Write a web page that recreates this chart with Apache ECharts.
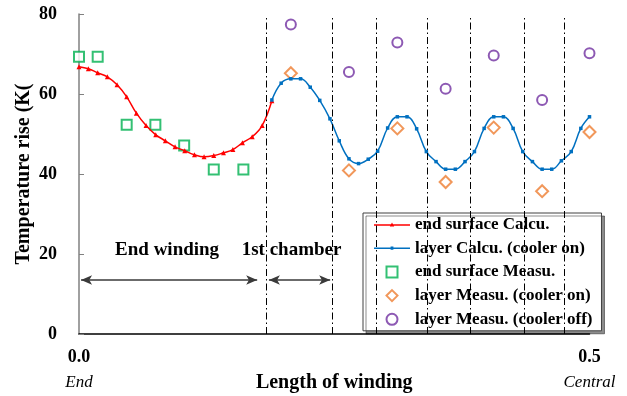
<!doctype html>
<html>
<head>
  <meta charset="utf-8">
  <title>Temperature rise along winding</title>
  <script src="https://cdn.jsdelivr.net/npm/echarts@6/dist/echarts.min.js"></script>
  <style>
    html, body { margin: 0; padding: 0; background: #fff; }
    #chart { width: 627px; height: 396px; }
  </style>
</head>
<body>
  <div id="chart"></div>
  <script>
    // 端面计算值
    var endCalcX = [0, 0.0092, 0.0183, 0.0278, 0.0373, 0.0467, 0.0562, 0.0657, 0.0752, 0.0846, 0.0941,
      0.1036, 0.1131, 0.1225, 0.1320, 0.1415, 0.1507, 0.1601, 0.1696, 0.1794, 0.1889];
    var endCalcY = [66.8, 66.3, 65.3, 64.3, 62.3, 59.3, 55.2, 52.1, 49.8, 48.3, 46.8,
      45.8, 44.8, 44.3, 44.6, 45.3, 46.1, 47.8, 49.3, 52.1, 58.3];

    // 线圈层计算值 (冷却器开)
    var layerCalcX = [0.1889, 0.198, 0.2075, 0.217, 0.2265, 0.2358, 0.2458, 0.2549, 0.2644, 0.2738,
      0.2833, 0.2925, 0.3023, 0.3118, 0.3213, 0.3307, 0.3402, 0.3497, 0.3591, 0.3686, 0.3781,
      0.3873, 0.3968, 0.4062, 0.4157, 0.4252, 0.4346, 0.4441, 0.4536, 0.4630, 0.4725, 0.4821,
      0.4915, 0.5];
    var layerCalcY = [58.5, 62.7, 63.8, 63.8, 61.7, 58.4, 53.8, 48.3, 43.8, 42.6,
      43.7, 45.7, 51.5, 54.3, 54.3, 51.3, 45.6, 43.1, 41.2, 41.2, 43.1,
      45.6, 51.4, 54.3, 54.3, 51.4, 45.6, 43.1, 41.2, 41.2, 43.3, 45.6,
      51.4, 54.3];

    // 测量值
    var endMeasX = [0, 0.0183, 0.0467, 0.0748, 0.103, 0.132, 0.161];
    var endMeasY = [69.3, 69.3, 52.3, 52.3, 47.1, 41.1, 41.1];
    var layerMeasX = [0.2075, 0.2644, 0.3118, 0.3591, 0.4062, 0.4536, 0.5];
    var layerOnY = [65.2, 40.9, 51.4, 38.0, 51.6, 35.7, 50.5];
    var layerOffY = [77.4, 65.5, 72.9, 61.3, 69.6, 58.5, 70.2];

    // 分隔线位置
    var dividerX = [0.183, 0.2483, 0.2909, 0.3415, 0.3836, 0.436, 0.4755];
    // 区段标注
    var spanNames = ['End winding', '1st chamber'];
    var spanFrom = [0.002, 0.186];
    var spanTo = [0.1745, 0.246];
    var spanShift = [-2, -8];   // 文字相对箭头中点的偏移
    var spanY = 13.5;

    var xTicks = { 0: 'End', 0.5: 'Central' };

    function pairs(xs, ys) {
      var out = [];
      for (var i = 0; i < xs.length; i++) out.push([xs[i], ys[i]]);
      return out;
    }

    var font = '"Liberation Serif", "DejaVu Serif", serif';

    // 图例图标
    var squarePath = 'path://M0,0H10V10H0Z';
    var diamondPath = 'path://M5,0L10,5L5,10L0,5Z';
    var redLineIcon = 'path://M0,4.3H36V5.7H0Z M18,2.6L20.2,6.4H15.8Z';
    var blueLineIcon = 'path://M0,4.3H36V5.7H0Z M16.6,3.4H19.4V6.6H16.6Z';

    var dividerLines = dividerX.map(function (x) {
      return [{ coord: [x, 0] }, { coord: [x, 79] }];
    });
    var spanLines = spanNames.map(function (n, i) {
      return [
        { coord: [spanFrom[i], spanY], name: n, label: { offset: [spanShift[i], 0] } },
        { coord: [spanTo[i], spanY] }
      ];
    });

    var myChart = echarts.init(document.getElementById('chart'));
    var option = {
      animation: false,
      textStyle: { fontFamily: font },
      grid: { left: 79, right: 37.5, top: 14, bottom: 62, containLabel: false, outerBoundsMode: 'none' },
      xAxis: {
        type: 'value', min: 0, max: 0.5, interval: 0.5,
        name: 'Length of winding', nameLocation: 'middle', nameGap: 39,
        nameMoveOverlap: false,
        nameTextStyle: { fontFamily: font, fontSize: 20, fontWeight: 'bold', color: '#000' },
        axisLine: { lineStyle: { color: '#000', width: 1.5 } },
        axisTick: { show: false },
        splitLine: { show: false },
        axisLabel: {
          margin: 11,
          formatter: function (v) { return '{a|' + v.toFixed(1) + '}\n{b|' + xTicks[v] + '}'; },
          rich: {
            a: { fontFamily: font, fontSize: 18, fontWeight: 'bold', color: '#000', lineHeight: 25 },
            b: { fontFamily: font, fontSize: 17, fontStyle: 'italic', color: '#000', lineHeight: 25 }
          }
        }
      },
      yAxis: {
        type: 'value', min: 0, max: 80, interval: 20,
        name: 'Temperature rise (K(', nameLocation: 'middle', nameGap: 45,
        nameMoveOverlap: false,
        nameTextStyle: { fontFamily: font, fontSize: 20, fontWeight: 'bold', color: '#000' },
        axisLine: { show: true, lineStyle: { color: '#808080', width: 1.5 } },
        axisTick: { show: true, inside: true, length: 5, lineStyle: { color: '#808080' } },
        splitLine: { show: false },
        axisLabel: { margin: 22, fontFamily: font, fontSize: 18, fontWeight: 'bold', color: '#000' }
      },
      legend: {
        orient: 'vertical', left: 363, top: 213,
        padding: [3, 9, 3, 11], itemGap: 6.7, itemWidth: 36, itemHeight: 11,
        symbolKeepAspect: true,
        backgroundColor: '#fff', borderColor: '#404040', borderWidth: 1,
        shadowColor: 'rgba(0,0,0,0.45)', shadowOffsetX: 3, shadowOffsetY: 3, shadowBlur: 0,
        textStyle: { fontFamily: font, fontSize: 17, fontWeight: 'bold', color: '#000', lineHeight: 17 },
        data: [
          { name: 'end surface Calcu.', icon: redLineIcon },
          { name: 'layer Calcu. (cooler on)', icon: blueLineIcon },
          { name: 'end surface Measu.' },
          { name: 'layer Measu. (cooler on)' },
          { name: 'layer Measu. (cooler off)' }
        ]
      },
      series: [
        {
          name: 'guides', type: 'line', data: [], silent: true,
          markLine: {
            silent: true, symbol: ['none', 'none'],
            lineStyle: { color: '#000', width: 1, type: [7, 3, 1.5, 3] },
            label: { show: false },
            data: dividerLines
          }
        },
        {
          name: 'spans', type: 'line', data: [], silent: true,
          markLine: {
            silent: true, symbol: ['arrow', 'arrow'], symbolSize: [7, 11],
            lineStyle: { color: '#3a3a3a', width: 1.5, type: 'solid' },
            label: {
              show: true, position: 'middle', distance: 20,
              formatter: '{b}',
              fontFamily: font, fontSize: 19, fontWeight: 'bold', color: '#000'
            },
            data: spanLines
          }
        },
        {
          name: 'end surface Calcu.', type: 'line', smooth: 0.4,
          data: pairs(endCalcX, endCalcY),
          symbol: 'triangle', symbolSize: 5, showSymbol: true,
          itemStyle: { color: '#ff0000' },
          lineStyle: { color: '#ff0000', width: 1.5 }
        },
        {
          name: 'layer Calcu. (cooler on)', type: 'line', smooth: 0.4,
          data: pairs(layerCalcX, layerCalcY),
          symbol: 'rect', symbolSize: 3.5, showSymbol: true,
          itemStyle: { color: '#0070c0' },
          lineStyle: { color: '#0070c0', width: 1.5 }
        },
        {
          name: 'end surface Measu.', type: 'scatter',
          data: pairs(endMeasX, endMeasY),
          symbol: squarePath, symbolSize: 10, symbolKeepAspect: true,
          itemStyle: { color: '#fff', borderColor: '#00b050', borderWidth: 2 }
        },
        {
          name: 'layer Measu. (cooler on)', type: 'scatter',
          data: pairs(layerMeasX, layerOnY),
          symbol: diamondPath, symbolSize: 12, symbolKeepAspect: true,
          itemStyle: { color: '#fff', borderColor: '#ed7d31', borderWidth: 2 }
        },
        {
          name: 'layer Measu. (cooler off)', type: 'scatter',
          data: pairs(layerMeasX, layerOffY),
          symbol: 'circle', symbolSize: 10,
          itemStyle: { color: '#fff', borderColor: '#7030a0', borderWidth: 2 }
        }
      ]
    };
    myChart.setOption(option);
  </script>
</body>
</html>
